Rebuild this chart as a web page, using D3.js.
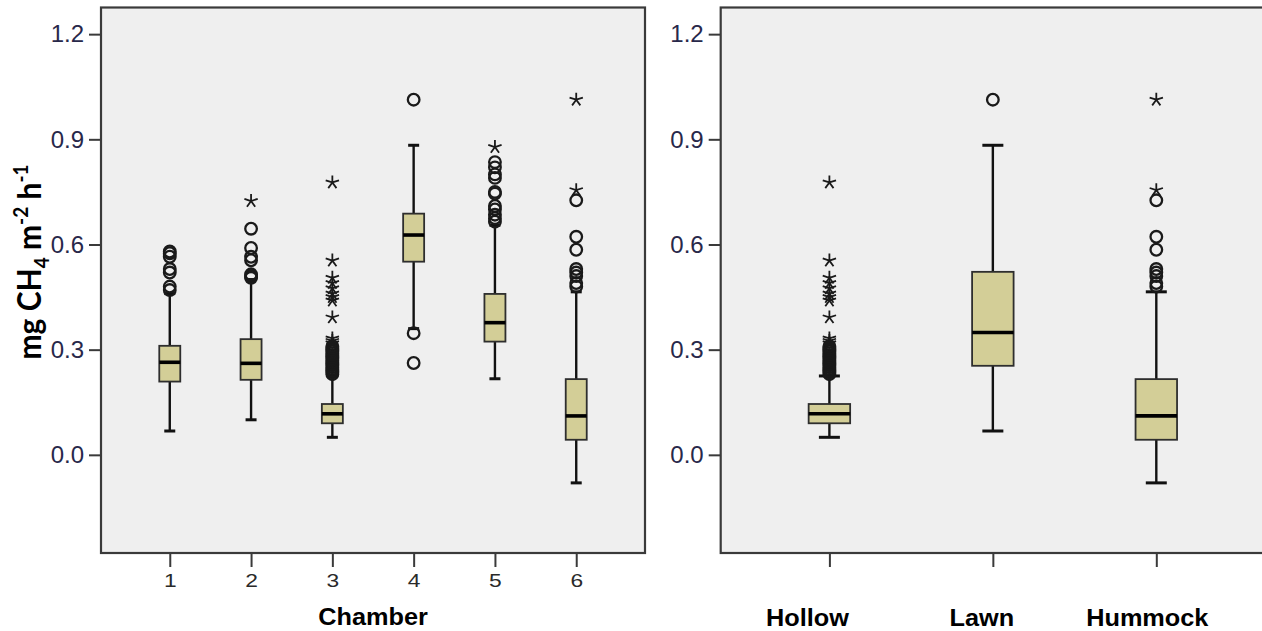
<!DOCTYPE html>
<html>
<head>
<meta charset="utf-8">
<script src="https://cdn.jsdelivr.net/npm/d3@7"></script>
<style>
  body { margin: 0; background: #ffffff; }
  svg { display: block; }
</style>
</head>
<body>
<svg id="chart" width="1262" height="631"></svg>
<script>
// ---- Chamber panel: box statistics (mg CH4 m-2 h-1) ----
const chambers = ["1", "2", "3", "4", "5", "6"];
const chamberLow    = [0.068, 0.100, 0.050, 0.360, 0.217, -0.080];
const chamberQ1     = [0.209, 0.214, 0.090, 0.551, 0.323, 0.043];
const chamberMedian = [0.264, 0.261, 0.117, 0.627, 0.377, 0.111];
const chamberQ3     = [0.311, 0.330, 0.145, 0.688, 0.459, 0.216];
const chamberHigh   = [0.460, 0.500, 0.225, 0.883, 0.655, 0.465];
// outliers (circles) and extreme values (asterisks)
const chamberOutliers = [
  [0.470, 0.480, 0.520, 0.530, 0.565, 0.575, 0.580],
  [0.505, 0.510, 0.515, 0.555, 0.565, 0.590, 0.645],
  [0.230, 0.235, 0.240, 0.245, 0.250, 0.255, 0.260, 0.265, 0.270, 0.275, 0.280, 0.285, 0.290, 0.295, 0.300, 0.305, 0.310],
  [0.262, 0.347, 1.013],
  [0.665, 0.675, 0.685, 0.700, 0.710, 0.745, 0.750, 0.790, 0.800, 0.820, 0.835],
  [0.480, 0.490, 0.510, 0.520, 0.530, 0.585, 0.622, 0.726]
];
const chamberExtremes = [
  [],
  [0.724],
  [0.318, 0.325, 0.332, 0.392, 0.440, 0.450, 0.460, 0.475, 0.490, 0.505, 0.554, 0.777],
  [],
  [0.878],
  [0.755, 1.013]
];

// ---- Microform panel ----
const microforms = ["Hollow", "Lawn", "Hummock"];
const microLow    = [0.050, 0.068, -0.080];
const microQ1     = [0.090, 0.254, 0.043];
const microMedian = [0.117, 0.349, 0.111];
const microQ3     = [0.145, 0.522, 0.216];
const microHigh   = [0.225, 0.883, 0.465];
const microOutliers = [
  [0.230, 0.235, 0.240, 0.245, 0.250, 0.255, 0.260, 0.265, 0.270, 0.275, 0.280, 0.285, 0.290, 0.295, 0.300, 0.305, 0.310],
  [1.013],
  [0.480, 0.490, 0.510, 0.520, 0.530, 0.585, 0.622, 0.726]
];
const microExtremes = [
  [0.318, 0.325, 0.332, 0.392, 0.440, 0.450, 0.460, 0.475, 0.490, 0.505, 0.554, 0.777],
  [],
  [0.755, 1.013]
];

const yTicks = [0.0, 0.3, 0.6, 0.9, 1.2];

// ---- layout ----
const plotTop = 7.5, plotBottom = 553;
const svg = d3.select("#chart");

const y = d3.scaleLinear().domain([-0.28, 1.276]).range([plotBottom, plotTop]);

const BOX_FILL = "#d3ce97";
const FRAME = "#3a3a3a";
const INK = "#111111";

function starPath(r) {
  let p = "";
  for (let i = 0; i < 5; i++) {
    const a = -Math.PI / 2 + i * 2 * Math.PI / 5;
    p += `M0,0L${(r * Math.cos(a)).toFixed(2)},${(r * Math.sin(a)).toFixed(2)}`;
  }
  return p;
}

function drawPanel(cfg) {
  const g = svg.append("g");
  const x = d3.scalePoint().domain(cfg.cats).range([cfg.x0, cfg.x1]).padding(cfg.padding);

  // plot area
  g.append("rect")
    .attr("x", cfg.x0).attr("y", plotTop)
    .attr("width", cfg.x1 - cfg.x0).attr("height", plotBottom - plotTop)
    .attr("fill", "#efefef").attr("stroke", FRAME).attr("stroke-width", 2.2);

  const rows = cfg.cats.map((c, i) => ({
    c, lo: cfg.lo[i], q1: cfg.q1[i], med: cfg.med[i], q3: cfg.q3[i], hi: cfg.hi[i],
    out: cfg.out[i], ext: cfg.ext[i]
  }));

  const box = g.selectAll("g.box").data(rows).join("g")
    .attr("class", "box")
    .attr("transform", d => `translate(${x(d.c)},0)`);

  // whiskers
  box.append("line")
    .attr("x1", 0).attr("x2", 0)
    .attr("y1", d => y(d.q3)).attr("y2", d => y(d.hi))
    .attr("stroke", INK).attr("stroke-width", 2.4);
  box.append("line")
    .attr("x1", 0).attr("x2", 0)
    .attr("y1", d => y(d.q1)).attr("y2", d => y(d.lo))
    .attr("stroke", INK).attr("stroke-width", 2.4);
  // whisker caps
  box.selectAll("line.cap").data(d => [d.lo, d.hi]).join("line")
    .attr("class", "cap")
    .attr("x1", -cfg.capW / 2).attr("x2", cfg.capW / 2)
    .attr("y1", v => y(v)).attr("y2", v => y(v))
    .attr("stroke", INK).attr("stroke-width", 3);

  // box
  box.append("rect")
    .attr("x", -cfg.boxW / 2).attr("width", cfg.boxW)
    .attr("y", d => y(d.q3)).attr("height", d => y(d.q1) - y(d.q3))
    .attr("fill", BOX_FILL).attr("stroke", "#2e2e2e").attr("stroke-width", 1.8);
  // median
  box.append("line")
    .attr("x1", -cfg.boxW / 2).attr("x2", cfg.boxW / 2)
    .attr("y1", d => y(d.med)).attr("y2", d => y(d.med))
    .attr("stroke", "#000").attr("stroke-width", 3.6);

  // outliers
  box.selectAll("circle.out").data(d => d.out).join("circle")
    .attr("class", "out")
    .attr("cx", 0).attr("cy", v => y(v)).attr("r", 5.8)
    .attr("fill", "none").attr("stroke", "#1a1a1a").attr("stroke-width", 2.3);
  // extremes
  box.selectAll("path.ext").data(d => d.ext).join("path")
    .attr("class", "ext")
    .attr("transform", v => `translate(0,${y(v)})`)
    .attr("d", starPath(7))
    .attr("fill", "none").attr("stroke", "#1a1a1a").attr("stroke-width", 1.8);

  // y axis
  const ya = g.append("g")
    .attr("transform", `translate(${cfg.x0},0)`)
    .call(d3.axisLeft(y).tickValues(yTicks).tickFormat(d3.format(".1f")).tickSize(12).tickPadding(5));
  ya.select(".domain").remove();
  ya.selectAll(".tick line").attr("stroke", FRAME).attr("stroke-width", 2);
  ya.selectAll(".tick text")
    .attr("fill", "#28284a")
    .style("font-family", "'Liberation Sans', Arial, sans-serif")
    .style("font-size", "24px");

  // x axis
  const xa = g.append("g")
    .attr("transform", `translate(0,${plotBottom})`)
    .call(d3.axisBottom(x).tickSize(14).tickPadding(7));
  xa.select(".domain").remove();
  xa.selectAll(".tick line").attr("stroke", FRAME).attr("stroke-width", 2);
  if (cfg.tickLabels) {
    xa.selectAll(".tick text")
      .attr("fill", "#2a2a2a")
      .attr("transform", "scale(1.2,1)")
      .style("font-family", "'Liberation Sans', Arial, sans-serif")
      .style("font-size", "19px");
  } else {
    xa.selectAll(".tick text").remove();
  }
  return x;
}

// left: per-chamber
const xc = drawPanel({
  cats: chambers, x0: 101, x1: 645, padding: 0.846,
  lo: chamberLow, q1: chamberQ1, med: chamberMedian, q3: chamberQ3, hi: chamberHigh,
  out: chamberOutliers, ext: chamberExtremes,
  boxW: 21, capW: 11, tickLabels: true
});

// right: per microform (frame continues past the page edge)
const xm = drawPanel({
  cats: microforms, x0: 720.7, x1: 1265, padding: 0.665,
  lo: microLow, q1: microQ1, med: microMedian, q3: microQ3, hi: microHigh,
  out: microOutliers, ext: microExtremes,
  boxW: 41.5, capW: 21, tickLabels: false
});

// axis titles
const boldFont = "'Liberation Sans', Arial, sans-serif";
svg.append("text")
  .attr("transform", `translate(${(101 + 645) / 2},625) scale(1.1,1)`)
  .attr("text-anchor", "middle")
  .style("font-family", boldFont).style("font-weight", "bold").style("font-size", "23px")
  .attr("fill", "#000")
  .text("Chamber");

const microLabelShift = [-22, -11, -9];
microforms.forEach((m, i) => {
  svg.append("text")
    .attr("transform", `translate(${xm(m) + microLabelShift[i]},626) scale(1.1,1)`)
    .attr("text-anchor", "middle")
    .style("font-family", boldFont).style("font-weight", "bold").style("font-size", "23px")
    .attr("fill", "#000")
    .text(m);
});

// y title: mg CH4 m-2 h-1
const yt = svg.append("text")
  .attr("transform", "translate(41,262) scale(1.1,1) rotate(-90)")
  .attr("text-anchor", "middle")
  .style("font-family", "Lato, 'Open Sans', sans-serif")
  .style("font-weight", "bold").style("font-size", "30px")
  .attr("fill", "#000");
yt.append("tspan").text("mg CH");
yt.append("tspan").attr("dy", 7).style("font-size", "19px").text("4");
yt.append("tspan").attr("dy", -7).text(" m");
yt.append("tspan").attr("dy", -12).style("font-size", "19px").text("-2");
yt.append("tspan").attr("dy", 12).text(" h");
yt.append("tspan").attr("dy", -12).style("font-size", "19px").text("-1");
</script>
</body>
</html>
